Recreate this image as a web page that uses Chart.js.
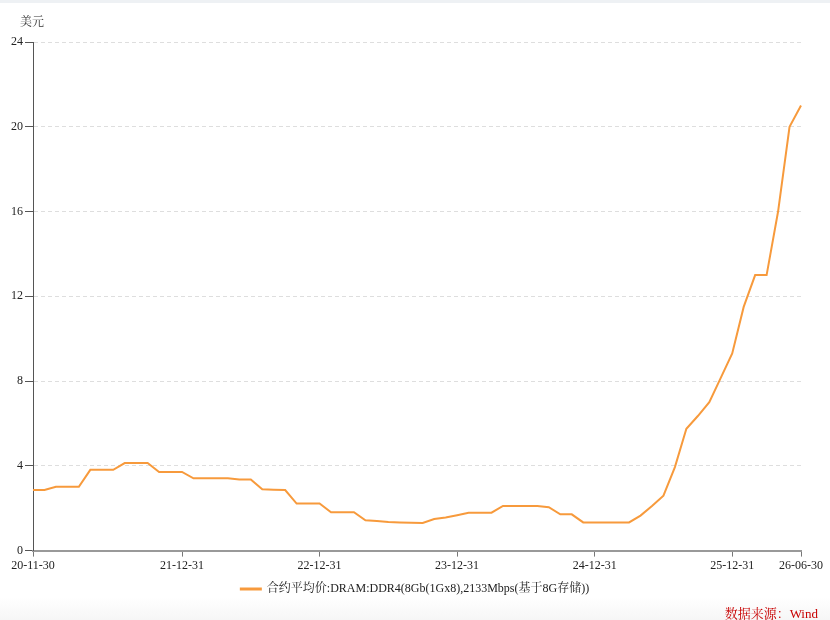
<!DOCTYPE html>
<html>
<head>
<meta charset="utf-8">
<script src="https://cdn.jsdelivr.net/npm/chart.js@4.4.1/dist/chart.umd.min.js"></script>
<style>
  body { margin: 0; background: #fff; }
  #wrap { position: relative; width: 830px; height: 620px; overflow: hidden; }
  #topbar { position: absolute; left: 0; top: 0; width: 830px; height: 3px; background: #eef1f4; }
  #foot { position: absolute; left: 0; top: 597px; width: 830px; height: 23px; background: linear-gradient(#fff, #f6f6f6); }
  #src { position: absolute; right: 12px; top: 603px; color: #c80000; font: 13px "Liberation Serif", "Noto Serif CJK SC", "Noto Sans CJK SC", serif; }
  #box { position: absolute; left: 0; top: 0; width: 830px; height: 609px; }
</style>
</head>
<body>
<div id="wrap">
  <div id="foot"></div>
  <div id="topbar"></div>
  <div id="box"><canvas id="c"></canvas></div>
  <div id="src">数据来源：Wind</div>
</div>
<script>
// month-end dates, 2020-11 .. 2026-06
var dates = [];
for (var i = 0; i < 68; i++) {
  var y = 2020 + Math.floor((10 + i) / 12), m = (10 + i) % 12 + 1;
  var d = new Date(Date.UTC(y, m, 0)).getUTCDate();
  dates.push(String(y).slice(2) + '-' + (m < 10 ? '0' + m : m) + '-' + d);
}

var seriesName = '合约平均价:DRAM:DDR4(8Gb(1Gx8),2133Mbps(基于8G存储))';
var prices = [
  2.86, 2.86, 3.01, 3.01, 3.01, 3.81, 3.81, 3.81, 4.13, 4.13,
  4.13, 3.71, 3.71, 3.71, 3.41, 3.41, 3.41, 3.41, 3.36, 3.36,
  2.89, 2.87, 2.86, 2.22, 2.22, 2.22, 1.81, 1.81, 1.81, 1.43,
  1.40, 1.35, 1.33, 1.31, 1.30, 1.49, 1.56, 1.67, 1.79, 1.79,
  1.79, 2.11, 2.11, 2.11, 2.11, 2.05, 1.71, 1.71, 1.33, 1.33,
  1.33, 1.33, 1.33, 1.65, 2.10, 2.59, 3.94, 5.75, 6.35, 7.00,
  8.15, 9.30, 11.5, 13.0, 13.0, 16.0, 20.0, 21.0
];
var tickLabels = ['20-11-30', '21-12-31', '22-12-31', '23-12-31', '24-12-31', '25-12-31', '26-06-30'];
var yUnit = '美元';

var serif = '"Liberation Serif", "Noto Serif CJK SC", "Noto Sans CJK SC", serif';
var orange = '#f79a3c';

var unitTitle = {
  id: 'unitTitle',
  afterLayout: function(chart) {
    // centre legend on the whole canvas
    if (chart.legend) { chart.legend.left = 0; chart.legend.right = chart.width; }
  },
  afterDraw: function(chart) {
    var s = chart.scales.y, ctx = chart.ctx;
    ctx.save();
    ctx.font = '12px ' + serif;
    ctx.fillStyle = '#333';
    ctx.textAlign = 'center';
    ctx.textBaseline = 'middle';
    ctx.fillText(yUnit, s.right - 1, s.top - 19);
    ctx.restore();
  }
};

new Chart(document.getElementById('c'), {
  type: 'line',
  data: {
    labels: dates,
    datasets: [{
      label: seriesName,
      data: prices,
      borderColor: orange,
      backgroundColor: orange,
      borderWidth: 2,
      pointRadius: 0,
      tension: 0
    }]
  },
  options: {
    responsive: true,
    maintainAspectRatio: false,
    animation: false,
    layout: { padding: { top: 42, right: 29, left: 0, bottom: 4 } },
    plugins: {
      tooltip: { enabled: false },
      legend: {
        position: 'bottom',
        labels: {
          boxWidth: 20,
          boxHeight: 1,
          padding: 8,
          color: '#222',
          font: { family: serif, size: 12 }
        }
      }
    },
    scales: {
      x: {
        type: 'category',
        offset: false,
        afterBuildTicks: function(scale) {
          scale.ticks = scale.ticks.filter(function(t) {
            return tickLabels.indexOf(dates[t.value]) >= 0;
          });
        },
        grid: { drawOnChartArea: false, color: '#777', tickLength: 6 },
        border: { color: '#999', width: 2 },
        ticks: {
          autoSkip: false,
          maxRotation: 0,
          color: '#222',
          padding: 2,
          font: { family: serif, size: 12 },
          callback: function(v) { return dates[v]; }
        }
      },
      y: {
        min: 0,
        max: 24,
        afterFit: function(scale) { scale.width = 33; },
        grid: {
          color: '#dedede',
          tickColor: '#555',
          tickLength: 8,
          tickBorderDash: []
        },
        border: { color: '#555', width: 1, dash: [4, 3] },
        ticks: {
          stepSize: 4,
          color: '#222',
          padding: 2,
          font: { family: serif, size: 12 }
        }
      }
    }
  },
  plugins: [unitTitle]
});
</script>
</body>
</html>
